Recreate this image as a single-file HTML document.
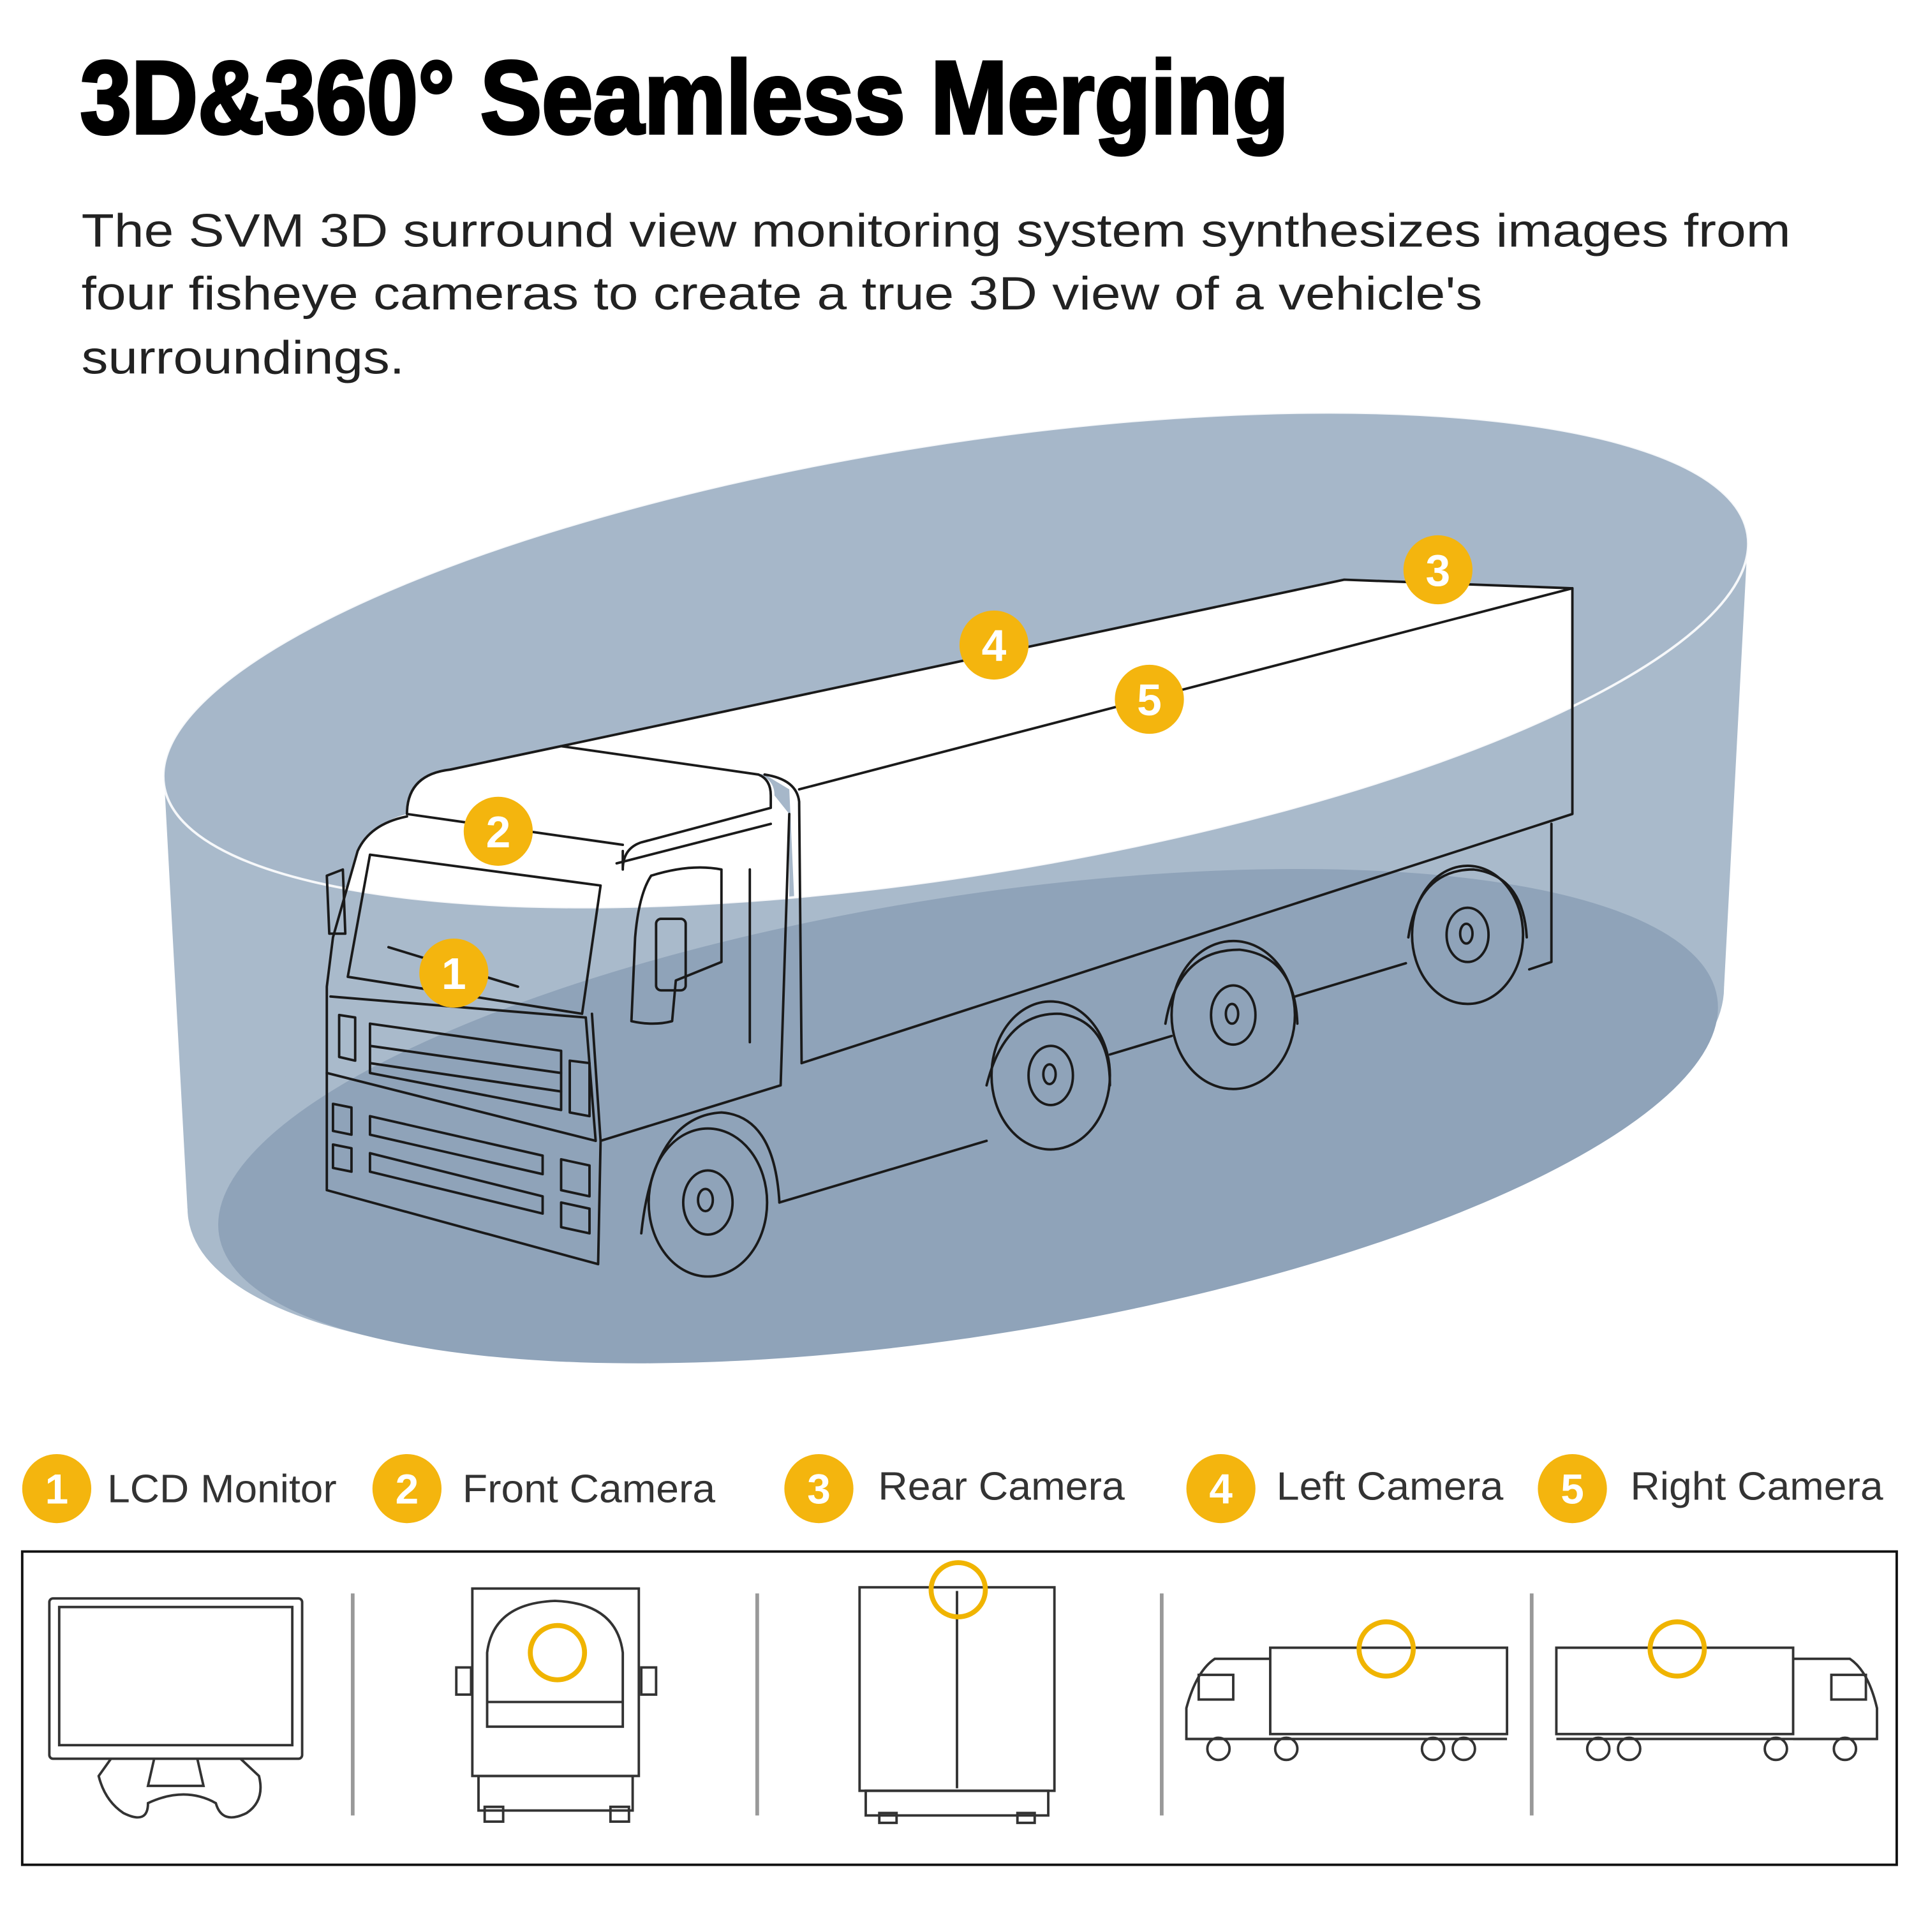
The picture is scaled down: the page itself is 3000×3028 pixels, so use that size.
<!DOCTYPE html>
<html><head><meta charset="utf-8"><style>
html,body{margin:0;padding:0;background:#fff;}
svg{display:block}
</style></head><body>
<svg width="3000" height="3028" viewBox="0 0 1552 1566.5" xmlns="http://www.w3.org/2000/svg">
<defs>
<clipPath id="above">
<ellipse cx="775" cy="535" rx="650" ry="175" transform="rotate(-9 775 535)"/>
<polygon points="0,0 1552,0 1552,440 1417,440 133,630 0,630"/>
</clipPath>
</defs>
<rect width="1552" height="1567" fill="#fff"/>
<text x="65" y="108" font-family="Liberation Sans, sans-serif" font-weight="bold" font-size="84" fill="#000" textLength="980" lengthAdjust="spacingAndGlyphs" stroke="#000" stroke-width="2.5">3D&amp;360° Seamless Merging</text>
<g font-family="Liberation Sans, sans-serif" font-size="38" fill="#222">
<text x="66" y="200" textLength="1386" lengthAdjust="spacingAndGlyphs">The SVM 3D surround view monitoring system synthesizes images from</text>
<text x="66" y="251" textLength="1136" lengthAdjust="spacingAndGlyphs">four fisheye cameras to create a true 3D view of a vehicle's</text>
<text x="66" y="303" textLength="262" lengthAdjust="spacingAndGlyphs">surroundings.</text>
</g>
<polygon points="133,630 1417,440 1398,800 152,980" fill="#a9bacb"/>
<ellipse cx="775" cy="890" rx="630" ry="192" transform="rotate(-9 775 890)" fill="#a9bacb"/>
<ellipse cx="775" cy="535" rx="650" ry="175" transform="rotate(-9 775 535)" fill="#a6b7c9"/>
<ellipse cx="785" cy="905" rx="615" ry="178" transform="rotate(-9 785 905)" fill="#8fa3b9"/>
<g clip-path="url(#above)" fill="#fff">
<polygon points="455,605 1090,470 1275,477 1275,660 650,862 640,640 620,628"/>
<path d="M330,660 Q330,628 365,624 L455,605 L615,628 Q628,632 628,645 L640,660 L640,880 L487,925 L480,822 L265,800 L270,760 L290,690 Q300,668 330,660 Z"/>
</g>
<ellipse cx="775" cy="535" rx="650" ry="175" transform="rotate(-9 775 535)" fill="none" stroke="#fff" stroke-width="2" opacity="0.9"/>
<g fill="none" stroke="#1a1a1a" stroke-width="2" stroke-linejoin="round" stroke-linecap="round">
<path d="M455,605 L1090,470 L1275,477 L1275,660 L650,862"/>
<path d="M620,628 Q646,632 648,650 L650,862"/>
<path d="M648,640 L1275,477"/>
<path d="M1258,668 L1258,780 L1240,786"/>
<path d="M900,855 L950,840"/><path d="M1050,808 L1140,781"/>
<path d="M487,925 L633,880 L640,660"/>
<path d="M632,975 L800,925"/>
<path d="M330,660 Q330,628 365,624 L455,605 L615,628 Q625,632 625,645 L625,655 L520,683 Q505,688 505,705 L505,690"/>
<path d="M330,660 L505,685"/>
<path d="M330,662 Q300,668 290,690 L270,760 L265,800 L265,965 L485,1025 L487,925 L480,822"/>
<path d="M300,693 L487,718 L472,822 L282,792 Z"/>
<path d="M268,808 L475,825 L483,925"/>
<path d="M265,870 L483,925"/>
<path d="M300,830 L455,852 L455,900 L300,870 Z"/>
<path d="M300,848 L455,870"/><path d="M300,862 L455,885"/>
<path d="M462,860 L478,862 L478,905 L462,902 Z"/>
<path d="M275,823 L288,825 L288,860 L275,857 Z"/>
<path d="M300,905 L440,937 L440,952 L300,920 Z"/>
<path d="M300,935 L440,970 L440,984 L300,950 Z"/>
<path d="M455,940 L478,945 L478,970 L455,965 Z"/>
<path d="M455,975 L478,980 L478,1000 L455,995 Z"/>
<path d="M270,895 L285,898 L285,920 L270,917 Z"/>
<path d="M270,928 L285,931 L285,950 L270,947 Z"/>
<path d="M315,768 L420,800"/>
<path d="M528,710 Q560,700 585,705 L585,780 L548,795 L545,828 Q530,832 512,828 L515,760 Q518,725 528,710"/>
<rect x="532" y="745" width="24" height="58" rx="4"/>
<path d="M608,705 L608,845"/>
<path d="M500,700 L625,668"/>
<path d="M265,710 L278,705 L280,757 L267,757 Z"/>
<path d="M520,1000 Q530,905 585,902 Q628,905 632,975"/>
<ellipse cx="574" cy="975" rx="48" ry="60"/>
<ellipse cx="574" cy="975" rx="20" ry="26"/>
<ellipse cx="572" cy="973" rx="6" ry="9"/>
<path d="M800,880 Q815,820 860,822 Q900,828 900,880"/>
<ellipse cx="852" cy="872" rx="48" ry="60"/>
<ellipse cx="852" cy="872" rx="18" ry="24"/>
<ellipse cx="851" cy="871" rx="5" ry="8"/>
<path d="M945,830 Q955,770 1005,770 Q1050,775 1052,830"/>
<ellipse cx="1000" cy="823" rx="50" ry="60"/>
<ellipse cx="1000" cy="823" rx="18" ry="24"/>
<ellipse cx="999" cy="822" rx="5" ry="8"/>
<path d="M1142,760 Q1150,705 1195,705 Q1235,710 1238,760"/>
<ellipse cx="1190" cy="758" rx="45" ry="56"/>
<ellipse cx="1190" cy="758" rx="17" ry="22"/>
<ellipse cx="1189" cy="757" rx="5" ry="8"/>
</g>
<g font-family="Liberation Sans, sans-serif" font-weight="bold" font-size="36" fill="#fff" text-anchor="middle">
<circle cx="368" cy="789" r="28" fill="#f4b50e"/><text x="368" y="802">1</text>
<circle cx="404" cy="674" r="28" fill="#f4b50e"/><text x="404" y="687">2</text>
<circle cx="1166" cy="462" r="28" fill="#f4b50e"/><text x="1166" y="475">3</text>
<circle cx="806" cy="523" r="28" fill="#f4b50e"/><text x="806" y="536">4</text>
<circle cx="932" cy="567" r="28" fill="#f4b50e"/><text x="932" y="580">5</text>
</g>
<g font-family="Liberation Sans, sans-serif">
<g font-weight="bold" font-size="34" fill="#fff" text-anchor="middle">
<circle cx="46" cy="1207" r="28" fill="#f4b50e"/><text x="46" y="1219">1</text>
<circle cx="330" cy="1207" r="28" fill="#f4b50e"/><text x="330" y="1219">2</text>
<circle cx="664" cy="1207" r="28" fill="#f4b50e"/><text x="664" y="1219">3</text>
<circle cx="990" cy="1207" r="28" fill="#f4b50e"/><text x="990" y="1219">4</text>
<circle cx="1275" cy="1207" r="28" fill="#f4b50e"/><text x="1275" y="1219">5</text>
</g>
<g font-size="32" fill="#333">
<text x="87" y="1218" textLength="186" lengthAdjust="spacingAndGlyphs">LCD Monitor</text>
<text x="375" y="1218" textLength="205" lengthAdjust="spacingAndGlyphs">Front Camera</text>
<text x="712" y="1216" textLength="200" lengthAdjust="spacingAndGlyphs">Rear Camera</text>
<text x="1035" y="1216" textLength="184" lengthAdjust="spacingAndGlyphs">Left Camera</text>
<text x="1322" y="1216" textLength="205" lengthAdjust="spacingAndGlyphs">Right Camera</text>
</g>
</g>
<rect x="18" y="1258" width="1520" height="254" fill="none" stroke="#111" stroke-width="2"/>
<g stroke="#999" stroke-width="3">
<line x1="286" y1="1292" x2="286" y2="1472"/>
<line x1="614" y1="1292" x2="614" y2="1472"/>
<line x1="942" y1="1292" x2="942" y2="1472"/>
<line x1="1242" y1="1292" x2="1242" y2="1472"/>
</g>
<g fill="none" stroke="#333" stroke-width="2">
<rect x="40" y="1296" width="205" height="130" rx="3"/>
<rect x="48" y="1303" width="189" height="112"/>
<path d="M90,1426 L80,1440 Q85,1460 100,1470 Q120,1480 120,1462 Q150,1448 175,1462 Q180,1480 200,1470 Q215,1460 210,1440 L195,1426"/>
<path d="M125,1426 L120,1448 L165,1448 L160,1426"/>
<path d="M383,1288 L518,1288 L518,1440 L383,1440 Z"/>
<path d="M395,1340 Q400,1300 450,1298 Q500,1300 505,1340 L505,1400 L395,1400 Z"/>
<path d="M395,1380 L505,1380"/>
<rect x="370" y="1352" width="12" height="22"/><rect x="520" y="1352" width="12" height="22"/>
<rect x="388" y="1440" width="125" height="28"/>
<rect x="393" y="1465" width="15" height="12"/><rect x="495" y="1465" width="15" height="12"/>
<rect x="697" y="1287" width="158" height="165"/>
<line x1="776" y1="1290" x2="776" y2="1450"/>
<rect x="702" y="1452" width="148" height="20"/>
<rect x="713" y="1470" width="14" height="8"/><rect x="825" y="1470" width="14" height="8"/>
<rect x="1030" y="1336" width="192" height="70"/>
<path d="M1030,1345 L985,1345 Q970,1355 962,1385 L962,1410 L1030,1410"/>
<rect x="972" y="1358" width="28" height="20"/>
<path d="M962,1410 L1222,1410"/>
<circle cx="988" cy="1418" r="9"/><circle cx="1043" cy="1418" r="9"/><circle cx="1162" cy="1418" r="9"/><circle cx="1187" cy="1418" r="9"/>
<rect x="1262" y="1336" width="192" height="70"/>
<path d="M1454,1345 L1500,1345 Q1515,1355 1522,1385 L1522,1410 L1454,1410"/>
<rect x="1485" y="1358" width="28" height="20"/>
<path d="M1262,1410 L1522,1410"/>
<circle cx="1296" cy="1418" r="9"/><circle cx="1321" cy="1418" r="9"/><circle cx="1440" cy="1418" r="9"/><circle cx="1496" cy="1418" r="9"/>
</g>
<g fill="none" stroke="#f0b400" stroke-width="4">
<circle cx="452" cy="1340" r="22"/>
<circle cx="777" cy="1289" r="22"/>
<circle cx="1124" cy="1337" r="22"/>
<circle cx="1360" cy="1337" r="22"/>
</g>
</svg>
</body></html>
